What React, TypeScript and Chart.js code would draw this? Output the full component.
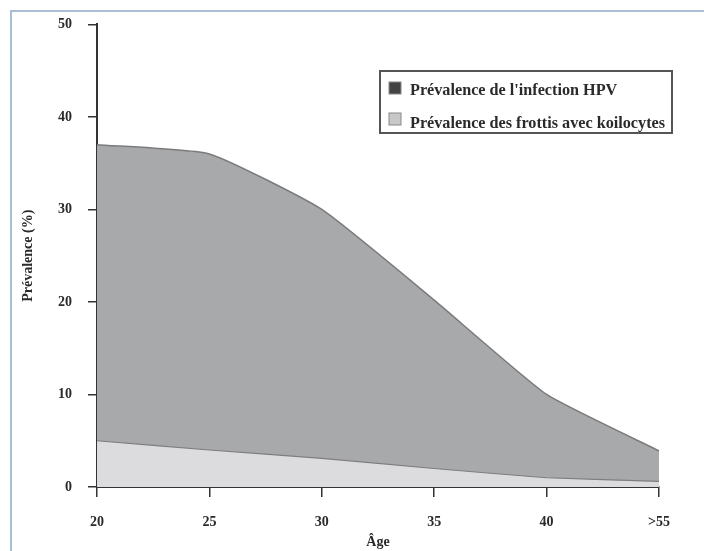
import React, { useEffect, useRef } from "react";
import { Chart, registerables } from "chart.js";

Chart.register(...registerables);

const ageLabels = ["20", "25", "30", "35", "40", ">55"];
const hpvPrevalence = [37, 36, 30, 20.2, 10, 3.9];
const koilocytePrevalence = [5, 4, 3.1, 2, 1, 0.6];
const seriesNames = [
  "Prévalence de l'infection HPV",
  "Prévalence des frottis avec koilocytes",
];
const yTicks = { min: 0, max: 50, step: 10 };

const FONT = "'Liberation Serif', 'Times New Roman', serif";

const framePlugin = {
  id: "frame",
  beforeDraw(chart: any) {
    const ctx = chart.ctx;
    ctx.save();
    ctx.strokeStyle = "#a9bdd6";
    ctx.lineWidth = 2;
    ctx.beginPath();
    ctx.moveTo(11, chart.height);
    ctx.lineTo(11, 11);
    ctx.lineTo(chart.width, 11);
    ctx.stroke();
    ctx.restore();
  },
};

const legendPlugin = {
  id: "boxLegend",
  afterDraw(chart: any) {
    const ctx = chart.ctx;
    const x = 380, y = 71, w = 292, h = 62;
    ctx.save();
    ctx.fillStyle = "#ffffff";
    ctx.fillRect(x, y, w, h);
    ctx.strokeStyle = "#555555";
    ctx.lineWidth = 2;
    ctx.strokeRect(x, y, w, h);
    ctx.font = `bold 16.2px ${FONT}`;
    ctx.textBaseline = "middle";
    chart.data.datasets.forEach((ds: any, i: number) => {
      const sy = y + 11 + i * 31;
      ctx.fillStyle = ds.legendSwatch;
      ctx.fillRect(x + 9, sy, 12, 12);
      ctx.strokeStyle = "#888888";
      ctx.lineWidth = 1;
      ctx.strokeRect(x + 9, sy, 12, 12);
      ctx.fillStyle = "#2a2a2a";
      ctx.fillText(ds.label, x + 30, sy + 9 + i * 2);
    });
    ctx.restore();
  },
};

export default function App() {
  const ref = useRef<HTMLCanvasElement | null>(null);

  useEffect(() => {
    if (!ref.current) return;
    const chart = new Chart(ref.current, {
      type: "line",
      data: {
        labels: ageLabels,
        datasets: [
          {
            label: seriesNames[0],
            data: hpvPrevalence,
            fill: "origin",
            backgroundColor: "#a8a9ab",
            borderColor: "#7b7b7d",
            borderWidth: 1.5,
            pointRadius: 0,
            tension: 0.15,
            order: 2,
            legendSwatch: "#444444",
          } as any,
          {
            label: seriesNames[1],
            data: koilocytePrevalence,
            fill: "origin",
            backgroundColor: "#dcdcde",
            borderColor: "#7e7e80",
            borderWidth: 1.2,
            pointRadius: 0,
            tension: 0.1,
            order: 1,
            legendSwatch: "#c8c8c8",
          } as any,
        ],
      },
      options: {
        animation: false,
        responsive: true,
        maintainAspectRatio: false,
        layout: { padding: { left: 0, top: 18, right: 45, bottom: 0 } },
        plugins: { legend: { display: false }, tooltip: { enabled: false } },
        scales: {
          x: {
            offset: false,
            grid: {
              drawOnChartArea: false,
              drawTicks: true,
              tickLength: 10,
              color: "#333333",
              lineWidth: 1.5,
            },
            border: { color: "#333333", width: 2 },
            ticks: {
              padding: 17,
              color: "#2a2a2a",
              font: { family: FONT, weight: "bold", size: 14 },
              maxRotation: 0,
            },
            title: {
              display: true,
              text: "Âge",
              color: "#2a2a2a",
              font: { family: FONT, weight: "bold", size: 14 },
              padding: { top: 0, bottom: 0 },
            },
            afterFit(scale: any) {
              scale.height = 64;
            },
          },
          y: {
            min: yTicks.min,
            max: yTicks.max,
            grid: {
              drawOnChartArea: false,
              drawTicks: true,
              tickLength: 9,
              color: "#333333",
              lineWidth: 1.5,
            },
            border: { color: "#333333", width: 2 },
            ticks: {
              stepSize: yTicks.step,
              padding: 16,
              color: "#2a2a2a",
              font: { family: FONT, weight: "bold", size: 14 },
            },
            title: {
              display: true,
              text: "Prévalence (%)",
              color: "#2a2a2a",
              font: { family: FONT, weight: "bold", size: 14 },
              padding: { top: 20, bottom: 0 },
            },
            afterFit(scale: any) {
              scale.width = 97;
            },
          },
        },
      },
      plugins: [framePlugin, legendPlugin],
    });
    return () => chart.destroy();
  }, []);

  return (
    <div style={{ position: "absolute", left: 0, top: 0, width: 704, height: 551, background: "#fff" }}>
      <canvas ref={ref} />
    </div>
  );
}
